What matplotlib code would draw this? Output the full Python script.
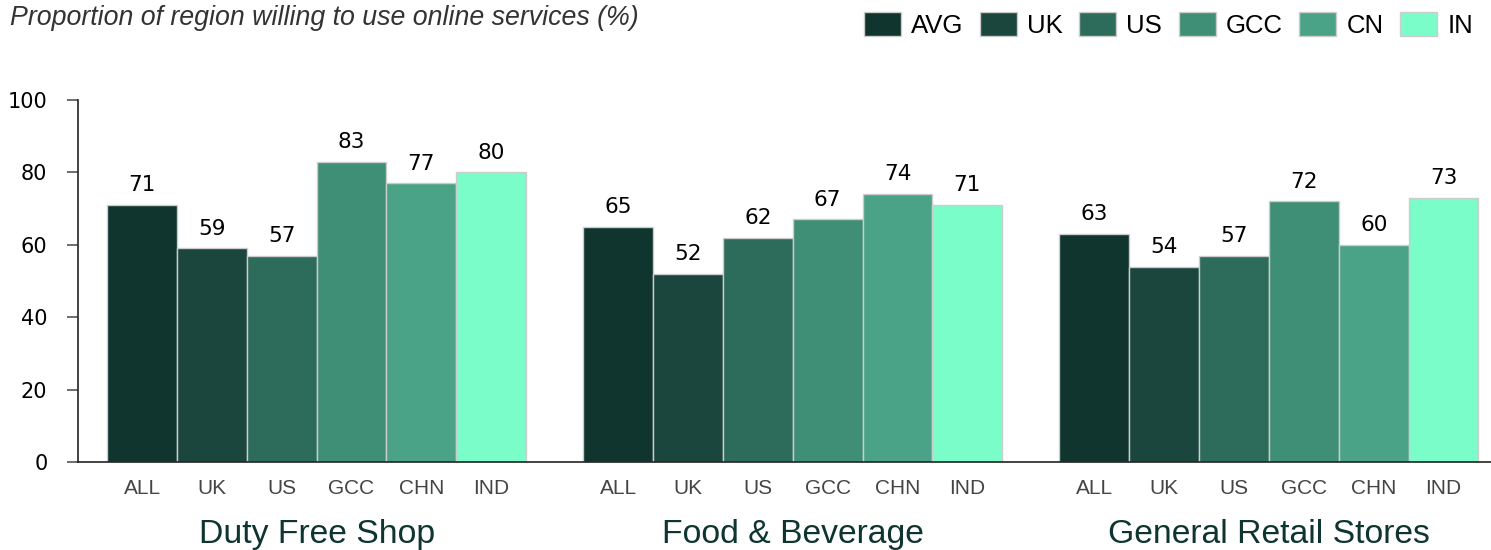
import matplotlib.pyplot as plt
from matplotlib.patches import Patch

# Data
groups = ["Duty Free Shop", "Food & Beverage", "General Retail Stores"]
regions = ["ALL", "UK", "US", "GCC", "CHN", "IND"]
legend_labels = ["AVG", "UK", "US", "GCC", "CN", "IN"]
duty_free = [71, 59, 57, 83, 77, 80]
food_bev = [65, 52, 62, 67, 74, 71]
retail = [63, 54, 57, 72, 60, 73]
values = [duty_free, food_bev, retail]

colors = ["#10352e", "#1b463d", "#2d6b5a", "#3f8e76", "#4aa386", "#7bfdc9"]

# Create figure
fig = plt.figure(figsize=(14.91, 5.5), dpi=100)
ax = fig.add_axes([78 / 1491, 88 / 550, 1413 / 1491, 362 / 550])

group_step = 6.82
tick_pos = []
tick_lab = []
for g, vals in enumerate(values):
    for i, v in enumerate(vals):
        x = g * group_step + i
        ax.bar(x, v, width=1.0, color=colors[i], edgecolor="#cccccc", linewidth=1.0)
        ax.annotate(str(v), (x, v), xytext=(0, 7), textcoords="offset points",
                    ha="center", va="bottom", fontsize=15.5, color="black")
        tick_pos.append(x)
        tick_lab.append(regions[i])
    ax.text(g * group_step + 2.5, -0.2, groups[g], transform=ax.get_xaxis_transform(),
            ha="center", va="center", fontsize=24.3, color="#0f3530",
            family="Liberation Sans")

# Format axes
ax.set_xlim(-0.917, 19.32)
ax.set_ylim(0, 100)
ax.set_yticks([0, 20, 40, 60, 80, 100])
ax.set_xticks(tick_pos)
ax.set_xticklabels(tick_lab, family="Liberation Sans", fontsize=15, color="#444444")
ax.tick_params(axis="x", length=0, pad=12.5)
ax.tick_params(axis="y", length=8, width=1.2, color="#555555", labelsize=15, pad=14)
ax.spines["top"].set_visible(False)
ax.spines["right"].set_visible(False)
ax.spines["left"].set_color("#222222")
ax.spines["bottom"].set_color("#222222")
ax.spines["left"].set_linewidth(1.2)
ax.spines["bottom"].set_linewidth(1.2)

# Title
fig.text(10 / 1491, 0.967, "Proportion of region willing to use online services (%)",
         ha="left", va="center", fontsize=19.3, style="italic", color="#333333",
         family="Liberation Sans")

# Legend
handles = [Patch(facecolor=c, edgecolor="#cccccc", linewidth=1.0) for c in colors]
fig.legend(handles, legend_labels, loc="upper right", bbox_to_anchor=(1.0, 1.01),
           ncol=6, frameon=False, borderpad=0.2, handlelength=1.44, handleheight=1.05,
           handletextpad=0.39, columnspacing=0.65,
           prop={"family": "Liberation Sans", "size": 18.5})

fig.savefig("out.png", dpi=100)
